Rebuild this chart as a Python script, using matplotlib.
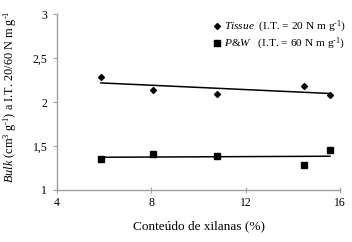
import numpy as np
import matplotlib
matplotlib.use("Agg")
import matplotlib.pyplot as plt

plt.rcParams['font.family'] = ['Liberation Serif', 'DejaVu Serif']
plt.rcParams['mathtext.fontset'] = 'custom'
plt.rcParams['mathtext.rm'] = 'Liberation Serif'
plt.rcParams['mathtext.it'] = 'Liberation Serif:italic'

xilanas = [5.86, 8.07, 10.78, 14.47, 15.57]
tissue = [2.28, 2.14, 2.09, 2.18, 2.08]
pw = [1.35, 1.41, 1.39, 1.28, 1.46]
xticks = [4, 8, 12, 16]
yticks = [1, 1.5, 2, 2.5, 3]
ytick_labels = ['1', '1,5', '2', '2,5', '3']

fig = plt.figure(figsize=(3.52, 2.42), dpi=100)
ax = fig.add_axes([0.162, 0.215, 0.804, 0.727])

x = np.array(xilanas)
h1, = ax.plot(x, tissue, linestyle='none', marker='D', color='black', markersize=3.0)
h2, = ax.plot(x, pw, linestyle='none', marker='s', color='black', markersize=4.0)
for ys in (tissue, pw):
    c = np.polyfit(x, ys, 1)
    xs = np.array([x.min(), x.max()])
    ax.plot(xs, np.polyval(c, xs), color='black', lw=1.1)

ax.set_xlim(4, 16)
ax.set_ylim(1, 3)
ax.set_xticks(xticks)
ax.set_yticks(yticks)
ax.set_yticklabels(ytick_labels)
for s in ['top', 'right']:
    ax.spines[s].set_visible(False)
for s in ['left', 'bottom']:
    ax.spines[s].set_color('#a0a0a0')
    ax.spines[s].set_linewidth(1.0)
ax.tick_params(axis='y', direction='out', length=3, color='#a0a0a0', labelsize=8.5, pad=4)
ax.tick_params(axis='x', direction='inout', length=4, color='#a0a0a0', labelsize=8.5, pad=3)

ax.set_xlabel('Conteúdo de xilanas (%)', fontsize=9.5, labelpad=8)
fig.text(0.03, 0.6, r'$Bulk$ (cm$^{3}$ g$^{\text{-1}}$) a I.T. 20/60 N m g$^{\text{-1}}$',
         fontsize=8.8, rotation=90, ha='center', va='center')

leg = ax.legend([h1, h2],
                [r'$Tissue$  (I.T. = 20 N m g$^{\text{-1}}$)',
                 r'$P$&$W$   (I.T. = 60 N m g$^{\text{-1}}$)'],
                loc='upper right', bbox_to_anchor=(1.045, 1.01), frameon=False,
                fontsize=8.2, handlelength=0.6, handletextpad=0.3,
                labelspacing=0.05, borderaxespad=0.2)

fig.savefig('out.png', dpi=100)
